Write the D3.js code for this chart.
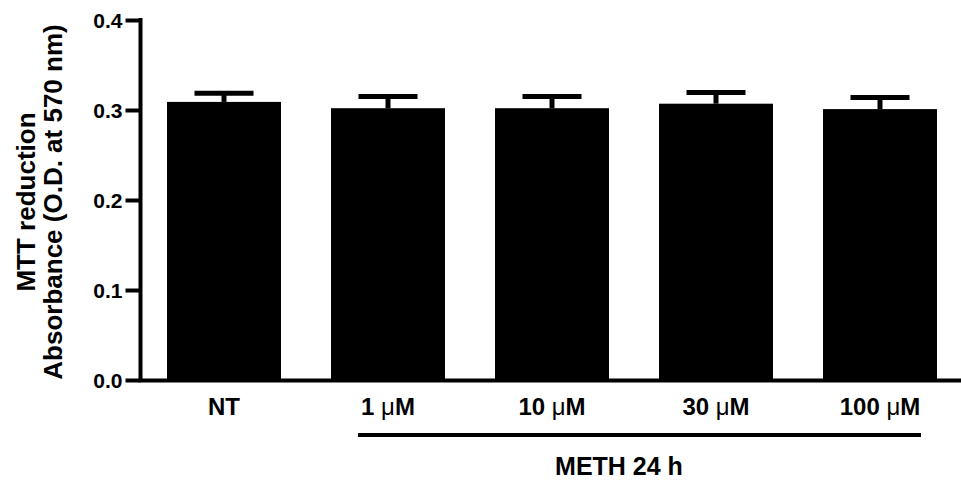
<!DOCTYPE html>
<html>
<head>
<meta charset="utf-8">
<script src="https://cdn.jsdelivr.net/npm/d3@7"></script>
<style>
  html, body { margin: 0; padding: 0; background: #fff; }
  text { font-family: "Liberation Sans", Arial, sans-serif; font-weight: bold; fill: #000; }
</style>
</head>
<body>
<svg id="chart" width="961" height="489"></svg>
<script>
const categories = ["NT", "1 μM", "10 μM", "30 μM", "100 μM"];
const labelNumbers = ["NT", "1", "10", "30", "100"];
const meanValues = [0.309, 0.302, 0.302, 0.307, 0.301];
const semValues = [0.0095, 0.013, 0.013, 0.0125, 0.013];
const yTicks = [0.0, 0.1, 0.2, 0.3, 0.4];
const groupLabel = "METH 24 h";
const groupMembers = ["1 μM", "10 μM", "30 μM", "100 μM"];
const yTitle1 = "MTT reduction";
const yTitle2 = "Absorbance (O.D. at 570 nm)";

const svg = d3.select("#chart");
const axisX = 140.5;

const x = d3.scaleBand()
  .domain(categories)
  .range([142, 962])
  .paddingInner(0.305)
  .paddingOuter(0.1525);

const y = d3.scaleLinear().domain([0, 0.4]).range([380, 20]);

// bars
svg.selectAll("rect.bar")
  .data(categories)
  .join("rect")
  .attr("class", "bar")
  .attr("x", d => x(d))
  .attr("width", x.bandwidth())
  .attr("y", (d, i) => y(meanValues[i]))
  .attr("height", (d, i) => y(0) - y(meanValues[i]))
  .attr("fill", "#000");

// error bars
const capW = 59;
categories.forEach((c, i) => {
  const cx = x(c) + x.bandwidth() / 2;
  const top = y(meanValues[i] + semValues[i]);
  svg.append("line")
    .attr("x1", cx).attr("x2", cx)
    .attr("y1", y(meanValues[i])).attr("y2", top)
    .attr("stroke", "#000").attr("stroke-width", 5);
  svg.append("line")
    .attr("x1", cx - capW / 2).attr("x2", cx + capW / 2)
    .attr("y1", top).attr("y2", top)
    .attr("stroke", "#000").attr("stroke-width", 5);
});

// y axis
const yAxis = d3.axisLeft(y)
  .tickValues(yTicks)
  .tickFormat(d3.format(".1f"))
  .tickSize(15)
  .tickSizeOuter(0)
  .tickPadding(3);
const gy = svg.append("g").attr("transform", `translate(${axisX},0)`).call(yAxis);
gy.select(".domain").attr("stroke", "#000").attr("stroke-width", 4)
  .attr("d", `M0,${y(0.4) - 2}V${y(0) + 2}`);
gy.selectAll(".tick line").attr("stroke", "#000").attr("stroke-width", 4);
gy.selectAll(".tick text")
  .attr("font-size", 21)
  .attr("font-weight", "bold")
  .attr("font-family", '"Liberation Sans", Arial, sans-serif')
  .attr("fill", "#000")
  .attr("dy", "0.38em");

// x axis baseline
svg.append("line")
  .attr("x1", axisX - 2).attr("x2", 961)
  .attr("y1", y(0) + 0.5).attr("y2", y(0) + 0.5)
  .attr("stroke", "#000").attr("stroke-width", 4);

// category labels
categories.forEach((c, i) => {
  const cx = x(c) + x.bandwidth() / 2;
  const t = svg.append("text")
    .attr("x", cx).attr("y", 415)
    .attr("text-anchor", "middle")
    .attr("font-size", 24);
  if (i === 0) {
    t.text(labelNumbers[i]);
  } else {
    t.append("tspan").text(labelNumbers[i] + " ");
    t.append("tspan").attr("font-weight", "normal").text("μ");
    t.append("tspan").text("M");
  }
});

// group line
const gFirst = groupMembers[0], gLast = groupMembers[groupMembers.length - 1];
const lineX1 = x(gFirst) + x.bandwidth() / 2 - 30;
const lineX2 = x(gLast) + x.bandwidth() / 2 + 41;
svg.append("line")
  .attr("x1", lineX1).attr("x2", lineX2)
  .attr("y1", 435).attr("y2", 435)
  .attr("stroke", "#000").attr("stroke-width", 4);

svg.append("text")
  .attr("x", (x(groupMembers[1]) + x(groupMembers[2]) + x.bandwidth()) / 2 - 15)
  .attr("y", 475)
  .attr("text-anchor", "middle")
  .attr("font-size", 25)
  .text(groupLabel);

// y titles
const midY = (y(0) + y(0.4)) / 2 + 2;
svg.append("text")
  .attr("transform", `translate(35,${midY}) rotate(-90)`)
  .attr("text-anchor", "middle")
  .attr("font-size", 26)
  .text(yTitle1);
svg.append("text")
  .attr("transform", `translate(62,${midY}) rotate(-90)`)
  .attr("text-anchor", "middle")
  .attr("font-size", 26)
  .text(yTitle2);
</script>
</body>
</html>
